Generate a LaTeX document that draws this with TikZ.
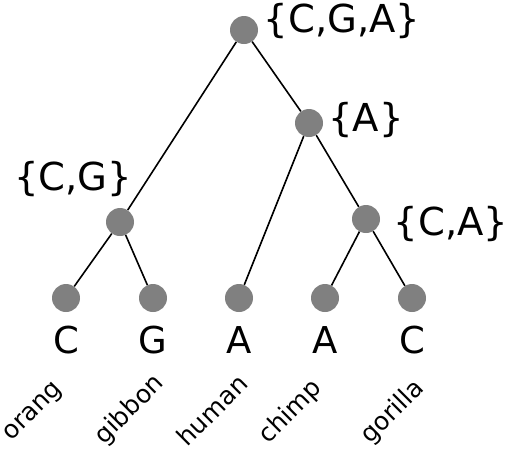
\documentclass[tikz,border=0pt]{standalone}
\usepackage{fontspec}
\setmainfont{DejaVu Sans}
\begin{document}
\begin{tikzpicture}[x=1pt,y=-1pt,
  tnode/.style={circle,fill={rgb,255:red,128;green,128;blue,128},inner sep=0pt,minimum size=28pt},
  edge/.style={line width=1.6pt,black},
  setlab/.style={font=\fontsize{38.5}{40}\selectfont,inner sep=0pt},
  leaflab/.style={font=\fontsize{37}{40}\selectfont,inner sep=0pt,anchor=base},
  species/.style={font=\fontsize{25}{27}\selectfont,inner sep=0pt,rotate=45}]
\useasboundingbox (0,0) rectangle (507,451);
\node[tnode] (root) at (244,30) {};
\node[tnode] (a) at (309,123) {};
\node[tnode] (cg) at (120,222) {};
\node[tnode] (ca) at (366,219) {};
\node[tnode] (l1) at (66,298) {};
\node[tnode] (l2) at (153,298) {};
\node[tnode] (l3) at (239,298) {};
\node[tnode] (l4) at (325,298) {};
\node[tnode] (l5) at (412,298) {};
\draw[edge] (root) -- (cg);
\draw[edge] (root) -- (a);
\draw[edge] (a) -- (l3);
\draw[edge] (a) -- (ca);
\draw[edge] (cg) -- (l1);
\draw[edge] (cg) -- (l2);
\draw[edge] (ca) -- (l4);
\draw[edge] (ca) -- (l5);
\node[setlab] (tcga) at (342,21) {\{C,G,A\}};
\node[setlab] (ta) at (366,120) {\{A\}};
\node[setlab] (tcg) at (73,179) {\{C,G\}};
\node[setlab] (tca) at (451,224) {\{C,A\}};
\node[leaflab] (s1) at (66,353) {C};
\node[leaflab] (s2) at (153,353) {G};
\node[leaflab] (s3) at (239,353) {A};
\node[leaflab] (s4) at (325,353) {A};
\node[leaflab] (s5) at (412,353) {C};
\node[species] (n1) at (34,413) {orang};
\node[species] (n2) at (130,410) {gibbon};
\node[species] (n3) at (212,410) {human};
\node[species] (n4) at (291,412) {chimp};
\node[species] (n5) at (393,412) {gorilla};
\end{tikzpicture}
\end{document}
